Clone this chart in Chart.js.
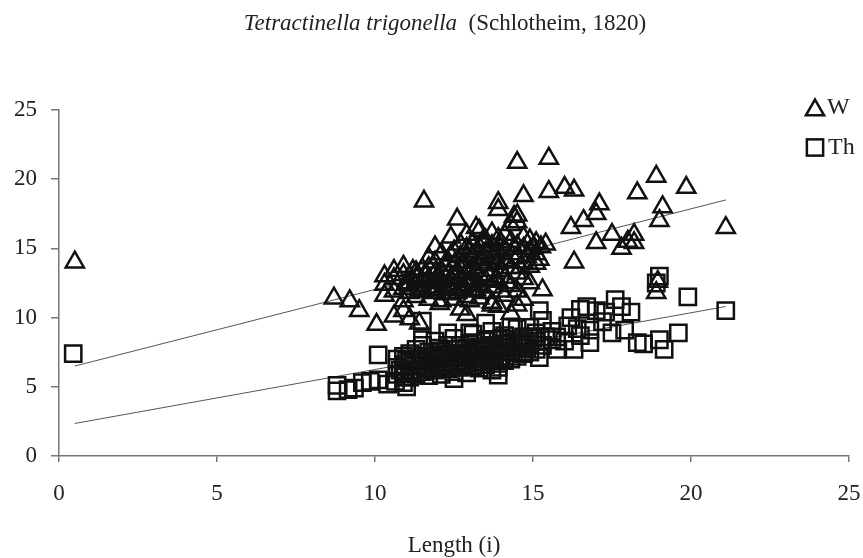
<!DOCTYPE html>
<html lang="en">
<head>
  <meta charset="UTF-8">
  <title>Tetractinella trigonella</title>
  <script src="https://cdn.jsdelivr.net/npm/chart.js"></script>
  <style>
    * {
      margin: 0;
      padding: 0;
      box-sizing: border-box;
    }

    body {
      background: #fff;
      font-family: 'Liberation Serif', 'DejaVu Serif', serif;
      color: #222;
    }

    #wrap {
      position: relative;
      width: 863px;
      height: 558px;
    }

    #title {
      position: absolute;
      top: 9px;
      left: 0;
      width: 890px;
      text-align: center;
      font-size: 23px;
      line-height: 28px;
      color: #222;
    }
  </style>
</head>
<body>
  <div id="wrap">
    <div id="title"><i>Tetractinella trigonella</i>&nbsp; (Schlotheim, 1820)</div>
    <canvas id="shapeChart"></canvas>
  </div>

  <script>
    const xTicks = [0, 5, 10, 15, 20, 25];
    const yTicks = [0, 5, 10, 15, 20, 25];

    // W (triangles): [length, value]
    const wPoints = [
      [0.5, 14.0],
      [8.7, 11.4], [9.2, 11.2], [9.5, 10.5], [10.05, 9.5], [10.3, 11.6], [10.6, 10.1], [10.9, 10.5],
      [11.4, 9.6], [12.05, 11.0], [12.9, 10.2], [13.7, 10.9], [14.3, 10.3], [14.5, 10.9],
      [10.3, 12.4], [10.3, 13.0],
      [10.6, 11.9], [10.6, 12.8], [10.6, 13.4],
      [10.9, 11.2], [10.9, 12.1], [10.9, 13.1], [10.9, 13.7],
      [11.1, 11.8], [11.1, 12.5], [11.1, 13.0], [11.1, 9.9],
      [11.3, 11.5], [11.3, 12.3], [11.3, 12.9], [11.3, 13.3],
      [11.5, 11.9], [11.5, 12.6], [11.5, 13.5], [11.5, 12.1],
      [11.7, 11.3], [11.7, 12.2], [11.7, 12.8], [11.7, 13.6], [11.7, 14.3],
      [11.9, 11.8], [11.9, 12.5], [11.9, 13.2], [11.9, 14.0], [11.9, 15.1],
      [12.1, 11.2], [12.1, 12.0], [12.1, 12.7], [12.1, 13.4], [12.1, 14.6],
      [12.3, 11.7], [12.3, 12.4], [12.3, 13.1], [12.3, 14.1],
      [12.5, 11.3], [12.5, 12.2], [12.5, 12.9], [12.5, 13.8], [12.5, 14.8],
      [12.7, 10.6], [12.7, 12.0], [12.7, 12.7], [12.7, 13.5], [12.7, 14.4], [12.7, 15.3],
      [12.9, 11.5], [12.9, 12.4], [12.9, 13.2], [12.9, 14.0], [12.9, 15.0], [12.9, 16.0],
      [13.1, 11.9], [13.1, 12.8], [13.1, 13.6], [13.1, 14.5], [13.1, 15.4],
      [13.3, 11.4], [13.3, 12.3], [13.3, 13.1], [13.3, 14.2], [13.3, 15.1], [13.3, 16.3],
      [13.5, 11.8], [13.5, 12.7], [13.5, 13.8], [13.5, 14.7], [13.5, 15.6],
      [13.7, 11.1], [13.7, 12.2], [13.7, 13.4], [13.7, 14.3], [13.7, 15.2], [13.7, 16.1],
      [13.9, 10.8], [13.9, 12.6], [13.9, 13.9], [13.9, 14.8], [13.9, 15.7],
      [14.1, 11.6], [14.1, 12.9], [14.1, 14.1], [14.1, 15.0], [14.1, 16.0],
      [14.3, 12.3], [14.3, 13.6], [14.3, 14.6], [14.3, 15.5], [14.3, 16.7],
      [14.5, 11.9], [14.5, 13.2], [14.5, 14.3], [14.5, 15.2], [14.5, 16.9], [14.5, 17.4],
      [14.7, 11.3], [14.7, 12.8], [14.7, 14.0], [14.7, 15.0], [14.7, 15.8],
      [14.9, 12.5], [14.9, 13.7], [14.9, 14.8], [14.9, 15.6],
      [15.1, 13.9], [15.1, 14.6], [15.1, 15.4],
      [11.0, 12.4], [11.2, 13.4], [11.4, 12.0], [11.6, 13.0], [11.8, 12.0], [12.0, 13.0],
      [12.2, 12.2], [12.2, 13.8], [12.4, 12.8], [12.4, 14.5], [12.6, 13.3], [12.6, 11.8],
      [12.8, 14.0], [12.8, 12.2], [13.0, 12.6], [13.0, 14.8], [13.2, 13.4], [13.2, 12.0],
      [13.4, 14.0], [13.4, 15.5], [13.6, 13.0], [13.6, 14.9], [13.8, 12.7], [13.8, 14.5],
      [14.0, 13.4], [14.0, 15.3], [14.2, 14.0], [14.2, 12.5], [14.4, 15.0], [14.6, 13.6],
      [14.8, 14.4], [15.0, 15.0], [13.0, 11.2], [14.0, 11.9],
      [11.55, 18.4], [12.6, 17.1], [13.9, 18.3], [13.9, 17.8], [14.7, 18.8], [14.5, 21.2],
      [15.5, 21.5], [15.5, 19.1], [16.0, 19.4], [16.3, 19.2], [16.2, 16.5], [16.6, 17.0],
      [16.3, 14.0], [17.0, 15.4], [17.1, 18.2], [17.0, 17.5], [17.5, 16.0], [17.8, 15.0],
      [18.0, 15.5], [18.2, 16.0], [18.2, 15.4], [18.3, 19.0], [18.9, 20.2], [19.0, 17.0],
      [19.1, 18.0], [19.85, 19.4], [18.9, 11.8], [18.95, 12.6], [21.1, 16.5], [15.25, 15.1],
      [15.3, 12.0], [12.4, 15.8], [13.2, 16.5], [14.4, 17.3], [15.2, 14.2], [15.4, 15.3]
    ];

    // Th (squares): [length, value]
    const thPoints = [
      [0.45, 7.4],
      [8.8, 5.1], [8.8, 4.7], [9.15, 4.8], [9.35, 4.9], [9.6, 5.3], [9.85, 5.4], [10.1, 7.3],
      [10.1, 5.5], [10.4, 5.2], [10.65, 5.4], [11.0, 5.0], [10.95, 5.7], [11.5, 9.75], [10.9, 5.3],
      [12.5, 5.6], [13.9, 5.85], [13.9, 6.4], [13.3, 6.35], [11.5, 8.4], [12.3, 8.9], [13.0, 8.9],
      [13.5, 9.6], [14.3, 9.3], [15.2, 10.5], [15.3, 9.8], [15.2, 7.1], [15.75, 7.7], [15.75, 8.6],
      [10.7, 5.9], [10.7, 6.4], [10.7, 7.0],
      [10.9, 6.0], [10.9, 6.6], [10.9, 7.2],
      [11.1, 5.7], [11.1, 6.2], [11.1, 6.8], [11.1, 7.4],
      [11.3, 5.9], [11.3, 6.5], [11.3, 7.0], [11.3, 7.7],
      [11.5, 6.1], [11.5, 6.6], [11.5, 7.2], [11.5, 8.0],
      [11.7, 5.8], [11.7, 6.4], [11.7, 6.9], [11.7, 7.5],
      [11.9, 6.2], [11.9, 6.7], [11.9, 7.3], [11.9, 8.3],
      [12.1, 5.9], [12.1, 6.5], [12.1, 7.0], [12.1, 7.6],
      [12.3, 6.3], [12.3, 6.8], [12.3, 7.4], [12.3, 8.0],
      [12.5, 6.1], [12.5, 6.6], [12.5, 7.1], [12.5, 7.7], [12.5, 8.5],
      [12.7, 6.4], [12.7, 6.9], [12.7, 7.4], [12.7, 8.0],
      [12.9, 6.0], [12.9, 6.7], [12.9, 7.2], [12.9, 7.8],
      [13.1, 6.5], [13.1, 7.0], [13.1, 7.5], [13.1, 8.2], [13.1, 8.8],
      [13.3, 6.8], [13.3, 7.3], [13.3, 7.9],
      [13.5, 6.6], [13.5, 7.1], [13.5, 7.7], [13.5, 8.3],
      [13.7, 6.2], [13.7, 6.9], [13.7, 7.4], [13.7, 8.0], [13.7, 9.0],
      [13.9, 6.7], [13.9, 7.2], [13.9, 7.8], [13.9, 8.4],
      [14.1, 6.9], [14.1, 7.5], [14.1, 8.1], [14.1, 8.7],
      [14.3, 7.0], [14.3, 7.6], [14.3, 8.2],
      [14.5, 7.2], [14.5, 7.8], [14.5, 8.4], [14.5, 9.2],
      [14.7, 7.4], [14.7, 8.0], [14.7, 8.6],
      [14.9, 7.5], [14.9, 8.1], [14.9, 8.6], [14.9, 9.3],
      [15.1, 7.7], [15.1, 8.3], [15.1, 8.9],
      [15.3, 8.0], [15.6, 9.0], [15.6, 8.4],
      [10.8, 6.2], [11.0, 6.9], [11.2, 6.0], [11.4, 6.8], [11.6, 6.3], [11.8, 7.1], [12.0, 6.4],
      [12.2, 7.2], [12.4, 6.5], [12.6, 7.3], [12.8, 6.6], [13.0, 7.4], [13.2, 6.8], [13.4, 7.6],
      [13.6, 7.0], [13.8, 7.7], [14.0, 7.2], [14.2, 7.9], [14.4, 7.5], [14.6, 8.2], [14.8, 7.8],
      [15.0, 8.5], [12.0, 7.8], [13.0, 8.1], [14.0, 8.5], [15.4, 8.6],
      [16.3, 7.7], [16.4, 9.2], [16.5, 8.7], [16.8, 9.1], [16.8, 8.2], [17.0, 10.5], [17.3, 10.4],
      [17.2, 9.7], [17.6, 11.3], [17.8, 10.8], [18.1, 10.4], [17.9, 9.1], [18.3, 8.2], [18.5, 8.1],
      [19.0, 13.0], [18.9, 12.5], [19.0, 8.4], [19.15, 7.7], [19.6, 8.9], [19.9, 11.5], [21.1, 10.5],
      [16.0, 8.3], [16.2, 10.0], [16.5, 10.6], [16.7, 10.8], [17.5, 8.9], [16.1, 9.4]
    ];

    // trend line end points
    const wTrend = [[0.5, 6.5], [21.1, 18.5]];
    const thTrend = [[0.5, 2.35], [21.1, 10.8]];

    const toXY = arr => arr.map(p => ({ x: p[0], y: p[1] }));
    const serif = "'Liberation Serif', 'DejaVu Serif', serif";
    const triR = 10.5, rectR = 11.5, markW = 2.5;

    // legend drawn by hand at the upper right, over the plot edge
    const sideLegend = {
      id: 'sideLegend',
      afterDraw(chart) {
        const ctx = chart.ctx;
        ctx.save();
        ctx.strokeStyle = '#111';
        ctx.lineWidth = markW;
        const tx = 815, ty = 110;
        ctx.beginPath();
        for (let i = 0; i < 3; i++) {
          const a = i * 2 * Math.PI / 3;
          const px = tx + Math.sin(a) * triR, py = ty - Math.cos(a) * triR;
          if (i === 0) ctx.moveTo(px, py); else ctx.lineTo(px, py);
        }
        ctx.closePath();
        ctx.stroke();
        const s = rectR * Math.SQRT1_2;
        ctx.strokeRect(815 - s, 147.5 - s, 2 * s, 2 * s);
        ctx.fillStyle = '#222';
        ctx.font = '24px ' + serif;
        ctx.textBaseline = 'middle';
        ctx.fillText('W', 827, 108);
        ctx.fillText('Th', 828, 148);
        ctx.restore();
      }
    };

    new Chart(document.getElementById('shapeChart'), {
      type: 'scatter',
      data: {
        datasets: [
          {
            label: 'W',
            data: toXY(wPoints),
            pointStyle: 'triangle',
            pointRadius: triR,
            borderColor: '#111',
            backgroundColor: 'rgba(0,0,0,0)',
            borderWidth: markW
          },
          {
            label: 'Th',
            data: toXY(thPoints),
            pointStyle: 'rect',
            pointRadius: rectR,
            borderColor: '#111',
            backgroundColor: 'rgba(0,0,0,0)',
            borderWidth: markW
          },
          {
            label: 'W trend',
            type: 'line',
            data: toXY(wTrend),
            borderColor: '#555',
            borderWidth: 1,
            pointRadius: 0
          },
          {
            label: 'Th trend',
            type: 'line',
            data: toXY(thTrend),
            borderColor: '#555',
            borderWidth: 1,
            pointRadius: 0
          }
        ]
      },
      options: {
        responsive: true,
        maintainAspectRatio: false,
        animation: false,
        layout: {
          padding: { top: 110, right: 14, bottom: 0.5, left: 0 }
        },
        plugins: {
          legend: { display: false },
          tooltip: { enabled: false }
        },
        scales: {
          x: {
            type: 'linear',
            min: 0,
            max: 25,
            afterBuildTicks: axis => { axis.ticks = xTicks.map(v => ({ value: v })); },
            afterFit: scale => {
              scale.height = 101.5;
              scale.paddingLeft = 0;
              scale.paddingRight = 0;
            },
            ticks: {
              font: { family: serif, size: 23, lineHeight: 1 },
              color: '#222',
              padding: 20
            },
            grid: {
              drawOnChartArea: false,
              tickLength: 6,
              color: '#777',
              lineWidth: 1.5
            },
            border: { color: '#777', width: 1.5 },
            title: {
              display: true,
              text: 'Length (i)',
              color: '#222',
              font: { family: serif, size: 23, lineHeight: 1 },
              padding: { top: 30, bottom: 0 }
            }
          },
          y: {
            type: 'linear',
            min: 0,
            max: 25,
            afterBuildTicks: axis => { axis.ticks = yTicks.map(v => ({ value: v })); },
            afterFit: scale => {
              scale.width = 59;
              scale.paddingTop = 0;
              scale.paddingBottom = 0;
            },
            ticks: {
              font: { family: serif, size: 23 },
              color: '#222',
              padding: 14
            },
            grid: {
              drawOnChartArea: false,
              tickLength: 8,
              color: '#777',
              lineWidth: 1.5
            },
            border: { color: '#777', width: 1.5 }
          }
        }
      },
      plugins: [sideLegend]
    });
  </script>
</body>
</html>
